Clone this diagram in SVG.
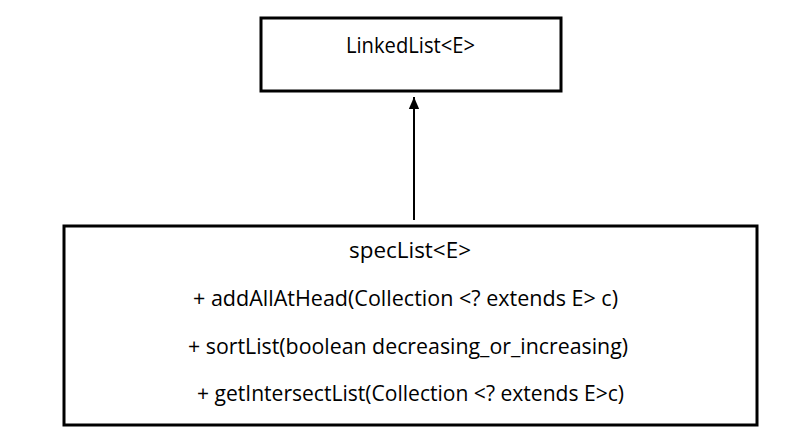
<svg xmlns="http://www.w3.org/2000/svg" width="793" height="445" viewBox="0 0 793 445">
<style>
.box{fill:#fff;stroke:#000;stroke-width:3}
.t{font-family:"Open Sans","Noto Sans","Liberation Sans",sans-serif;font-size:21px;fill:#000;text-anchor:middle}
.conn{stroke:#000;stroke-width:2;fill:none}
</style>
<defs>
<marker id="arr" viewBox="0 0 14 12" refX="14" refY="6" markerWidth="12" markerHeight="14" markerUnits="userSpaceOnUse" orient="auto">
<path d="M0,0 L14,6 L0,12 z" fill="#000"/>
</marker>
</defs>
<rect width="793" height="445" fill="#fff"/>
<g id="connectors">
<path class="conn" d="M414,220 L414,97" marker-end="url(#arr)"/>
</g>
<g id="LinkedList">
<rect class="box" x="261" y="18" width="300" height="73"/>
<text class="t" x="410.5" y="53" textLength="129" lengthAdjust="spacingAndGlyphs">LinkedList&lt;E&gt;</text>
</g>
<g id="specList">
<rect class="box" x="64" y="226" width="693" height="199"/>
<text class="t" x="410" y="258" textLength="122" lengthAdjust="spacingAndGlyphs">specList&lt;E&gt;</text>
<text class="t" x="405.5" y="306" textLength="425" lengthAdjust="spacingAndGlyphs">+ addAllAtHead(Collection &lt;? extends E&gt; c)</text>
<text class="t" x="408" y="354" textLength="440" lengthAdjust="spacingAndGlyphs">+ sortList(boolean decreasing_or_increasing)</text>
<text class="t" x="410.5" y="401" textLength="427" lengthAdjust="spacingAndGlyphs">+ getIntersectList(Collection &lt;? extends E&gt;c)</text>
</g>
</svg>
